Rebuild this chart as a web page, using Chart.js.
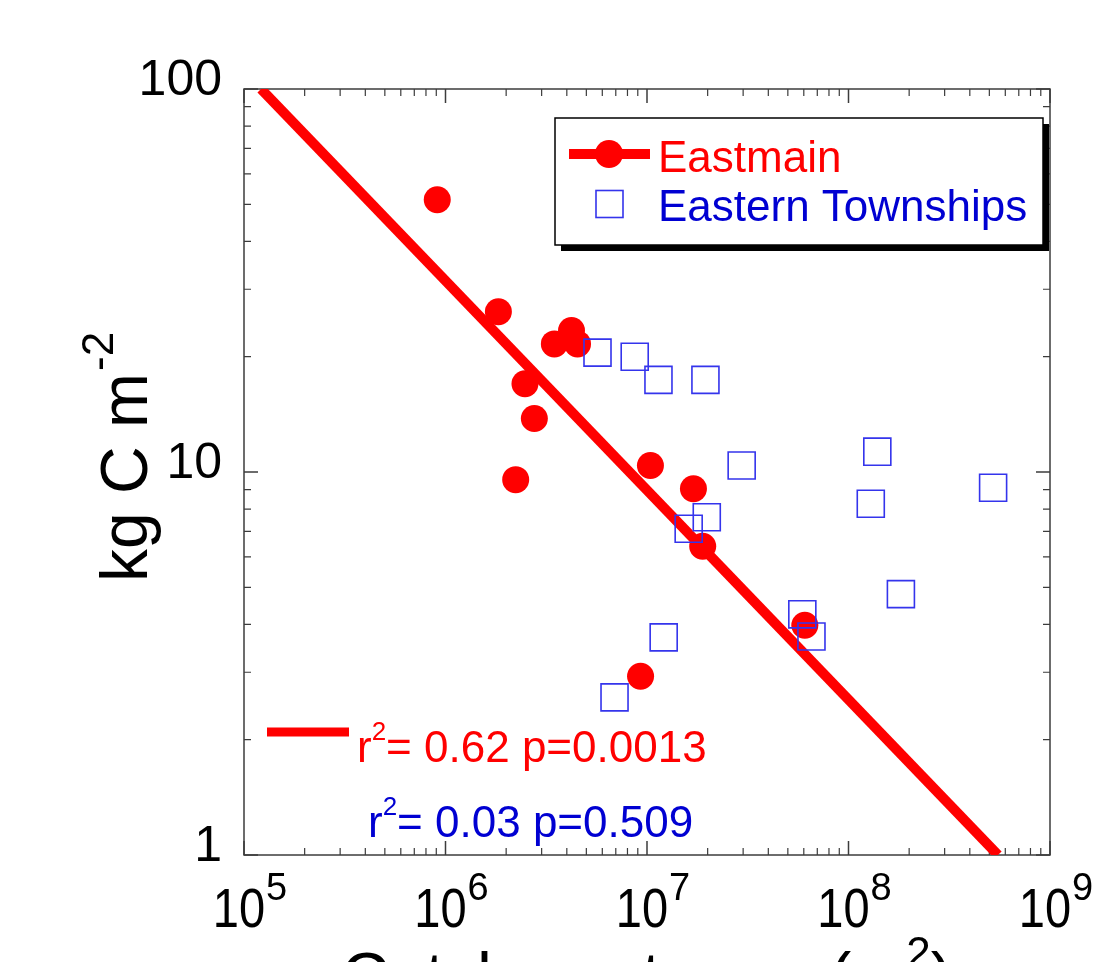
<!DOCTYPE html>
<html>
<head>
<meta charset="utf-8">
<script src="https://cdn.jsdelivr.net/npm/chart.js@4.4.1/dist/chart.umd.min.js"></script>
<style>
html, body { margin: 0; padding: 0; background: #fff; }
canvas { display: block; }
</style>
</head>
<body>
<canvas id="chart" width="1095" height="962"></canvas>
<script>
// Eastmain catchments (red circles): area in m2, carbon in kg C m-2
const eastmainArea = [9.1e5, 1.83e6, 3.47e6, 4.22e6, 4.52e6, 2.48e6, 2.76e6, 2.23e6, 1.04e7, 1.70e7, 1.89e7, 6.07e7, 9.29e6];
const eastmainCarbon = [51.4, 26.2, 21.6, 23.4, 21.6, 17.0, 13.8, 9.55, 10.4, 9.04, 6.40, 3.98, 2.93];

// Eastern Townships (open blue squares)
const townshipsArea = [5.68e6, 8.69e6, 1.14e7, 1.95e7, 2.95e7, 1.39e8, 1.29e8, 5.22e8, 1.98e7, 1.61e7, 1.82e8, 5.90e7, 6.55e7, 1.21e7, 6.90e6];
const townshipsCarbon = [20.5, 20.0, 17.4, 17.4, 10.4, 11.3, 8.26, 9.10, 7.62, 7.11, 4.80, 4.25, 3.72, 3.70, 2.58];

// Eastmain regression line end points
const fitArea = [1.215e5, 5.52e8];
const fitCarbon = [100, 1];

// axis ticks
const xDecades = [1e5, 1e6, 1e7, 1e8, 1e9];
const xExponents = ['5', '6', '7', '8', '9'];
const yDecades = [1, 10, 100];
const yTickLabels = ['1', '10', '100'];

const seriesNames = ['Eastmain', 'Eastern Townships'];
const statsText = ['= 0.62 p=0.0013', '= 0.03 p=0.509'];

const RED = '#ff0000';
const BLUE_TEXT = '#0000d2';
const BLUE_MARK = '#3434ec';
const FONT = "'Liberation Sans', Arial, sans-serif";

function toPoints(xs, ys) {
    return xs.map((x, i) => ({ x: x, y: ys[i] }));
}

// minor ticks 2..9 inside each decade
function minorTicks(decades) {
    const out = [];
    for (let i = 0; i < decades.length - 1; i++) {
        for (let m = 2; m <= 9; m++) out.push(decades[i] * m);
    }
    return out;
}

// frame with inward ticks on all four sides
const framePlugin = {
    id: 'frame',
    beforeDatasetsDraw(chart) {
        const { ctx, chartArea: a, scales: { x, y } } = chart;
        ctx.save();
        ctx.strokeStyle = '#3c3c3c';
        ctx.lineWidth = 1.5;
        ctx.strokeRect(a.left, a.top, a.right - a.left, a.bottom - a.top);

        const drawX = (vals, len) => {
            vals.forEach(v => {
                const px = x.getPixelForValue(v);
                ctx.moveTo(px, a.bottom); ctx.lineTo(px, a.bottom - len);
                ctx.moveTo(px, a.top); ctx.lineTo(px, a.top + len);
            });
        };
        const drawY = (vals, len) => {
            vals.forEach(v => {
                const py = y.getPixelForValue(v);
                ctx.moveTo(a.left, py); ctx.lineTo(a.left + len, py);
                ctx.moveTo(a.right, py); ctx.lineTo(a.right - len, py);
            });
        };
        ctx.beginPath();
        drawX(xDecades, 14);
        drawY(yDecades, 14);
        ctx.stroke();
        ctx.lineWidth = 1.2;
        ctx.beginPath();
        drawX(minorTicks(xDecades), 7);
        drawY(minorTicks(yDecades), 7);
        ctx.stroke();
        ctx.restore();
    }
};

// tick labels with exponents, axis titles, legend, fit statistics
const textPlugin = {
    id: 'texts',
    afterDraw(chart) {
        const { ctx, chartArea: a, scales: { x } } = chart;
        ctx.save();
        ctx.fillStyle = '#000';
        ctx.textBaseline = 'alphabetic';

        // x tick labels 10^n
        xDecades.forEach((v, i) => {
            const px = x.getPixelForValue(v);
            ctx.save();
            ctx.translate(px - 5, 927);
            ctx.scale(0.84, 1);
            ctx.font = `56px ${FONT}`;
            ctx.textAlign = 'center';
            ctx.fillText('10', 0, 0);
            ctx.restore();
            ctx.font = `38px ${FONT}`;
            ctx.textAlign = 'left';
            ctx.fillText(xExponents[i], px + 22, 900);
        });

        // y title, rotated
        ctx.save();
        ctx.translate(147, 582);
        ctx.rotate(-Math.PI / 2);
        ctx.textAlign = 'left';
        ctx.font = `66px ${FONT}`;
        const yMain = 'kg C m';
        ctx.fillText(yMain, 0, 0);
        const yw = ctx.measureText(yMain).width;
        ctx.font = `44px ${FONT}`;
        ctx.fillText('-2', yw + 2, -34);
        ctx.restore();

        // x title (mostly below the visible page)
        ctx.font = `66px ${FONT}`;
        const xMain = 'Catchment area (m';
        const w1 = ctx.measureText(xMain).width;
        const w3 = ctx.measureText(')').width;
        ctx.font = `44px ${FONT}`;
        const w2 = ctx.measureText('2').width;
        const total = w1 + w2 + w3;
        let sx = (a.left + a.right) / 2 - total / 2;
        ctx.textAlign = 'left';
        ctx.font = `66px ${FONT}`;
        ctx.fillText(xMain, sx, 999);
        ctx.font = `44px ${FONT}`;
        ctx.fillText('2', sx + w1, 968);
        ctx.font = `66px ${FONT}`;
        ctx.fillText(')', sx + w1 + w2, 999);

        // legend box with shadow
        const [mainSet, townSet] = [chart.data.datasets[1], chart.data.datasets[0]];
        ctx.fillStyle = '#000';
        ctx.fillRect(561, 124, 488, 127);
        ctx.fillStyle = '#fff';
        ctx.fillRect(555, 118, 488, 127);
        ctx.strokeStyle = '#000';
        ctx.lineWidth = 1.5;
        ctx.strokeRect(555, 118, 488, 127);

        ctx.strokeStyle = RED;
        ctx.lineWidth = 10;
        ctx.beginPath();
        ctx.moveTo(569, 154); ctx.lineTo(650, 154);
        ctx.stroke();
        ctx.fillStyle = mainSet.backgroundColor;
        ctx.beginPath();
        ctx.arc(609, 154, 14, 0, Math.PI * 2);
        ctx.fill();
        ctx.strokeStyle = townSet.borderColor;
        ctx.lineWidth = townSet.borderWidth;
        ctx.strokeRect(596, 190.5, 27, 27);

        ctx.font = `44px ${FONT}`;
        ctx.fillStyle = RED;
        ctx.fillText(seriesNames[0], 658, 172);
        ctx.fillStyle = BLUE_TEXT;
        ctx.fillText(seriesNames[1], 658, 221);

        // fit statistics
        ctx.strokeStyle = RED;
        ctx.lineWidth = 9;
        ctx.beginPath();
        ctx.moveTo(267, 732); ctx.lineTo(349, 732);
        ctx.stroke();

        const stat = (sx, base, txt, color) => {
            ctx.fillStyle = color;
            ctx.font = `44px ${FONT}`;
            ctx.fillText('r', sx, base);
            const rw = ctx.measureText('r').width;
            ctx.font = `26px ${FONT}`;
            ctx.fillText('2', sx + rw, base - 22);
            const sw = ctx.measureText('2').width;
            ctx.font = `44px ${FONT}`;
            ctx.fillText(txt, sx + rw + sw, base);
        };
        stat(357, 762, statsText[0], RED);
        stat(368, 837, statsText[1], BLUE_TEXT);

        ctx.restore();
    }
};

new Chart(document.getElementById('chart'), {
    type: 'scatter',
    data: {
        datasets: [
            {
                label: seriesNames[1],
                data: toPoints(townshipsArea, townshipsCarbon),
                pointStyle: 'rect',
                pointRadius: 19.1,
                backgroundColor: 'rgba(0,0,0,0)',
                borderColor: BLUE_MARK,
                borderWidth: 1.6,
                order: 0
            },
            {
                label: seriesNames[0],
                data: toPoints(eastmainArea, eastmainCarbon),
                pointStyle: 'circle',
                pointRadius: 13.5,
                backgroundColor: RED,
                borderWidth: 0,
                order: 1
            },
            {
                label: 'Eastmain fit',
                data: toPoints(fitArea, fitCarbon),
                showLine: true,
                borderColor: RED,
                borderWidth: 10,
                pointRadius: 0,
                order: 2
            }
        ]
    },
    options: {
        responsive: false,
        animation: false,
        devicePixelRatio: 1,
        layout: {
            autoPadding: false,
            padding: { top: 89, right: 45, bottom: 0, left: 0 }
        },
        plugins: {
            legend: { display: false },
            tooltip: { enabled: false }
        },
        scales: {
            x: {
                type: 'logarithmic',
                min: 1e5,
                max: 1e9,
                grid: { display: false, drawTicks: false },
                border: { display: false },
                ticks: { display: false },
                afterFit(scale) { scale.height = 107; }
            },
            y: {
                type: 'logarithmic',
                min: 1,
                max: 100,
                grid: { display: false, drawTicks: false },
                border: { display: false },
                ticks: {
                    color: '#000',
                    font: { size: 50, family: FONT },
                    padding: 22,
                    labelOffset: -8,
                    callback: (value, index) => yTickLabels[index]
                },
                afterBuildTicks(scale) {
                    scale.ticks = yDecades.map(v => ({ value: v }));
                },
                afterFit(scale) { scale.width = 244; }
            }
        }
    },
    plugins: [framePlugin, textPlugin]
});
</script>
</body>
</html>
